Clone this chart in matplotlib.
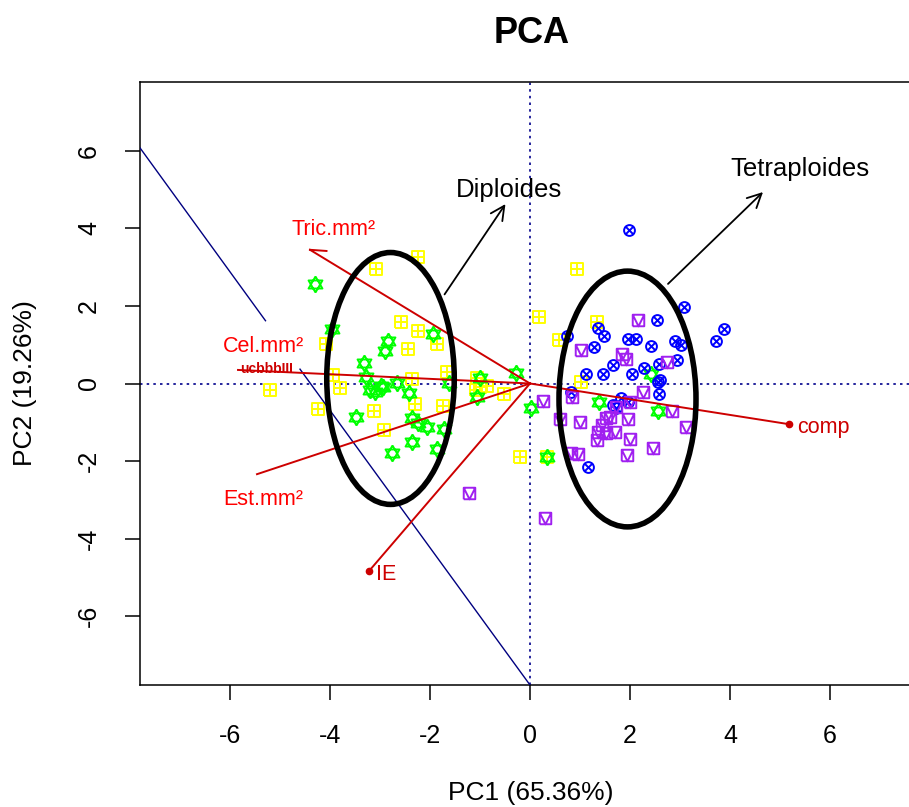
import numpy as np
import matplotlib
matplotlib.use("Agg")
import matplotlib.pyplot as plt
from matplotlib.path import Path
from matplotlib.patches import Ellipse

plt.rcParams['font.family'] = ['Liberation Sans', 'DejaVu Sans']

# Gruppen (Punkte der PCA)
dip_yellow_x = [-2.25, -3.08, -2.59, -2.24, -2.45, -1.87, -3.94, -1.67, -3.80, -2.37,
                -4.23, -3.13, -2.31, -1.74, -2.92, -4.08, -1.07, -1.09, -1.01, -0.87,
                -0.52, 0.17, -0.20, -5.20, 0.34, 0.94, 1.33, 0.57, 1.01]
dip_yellow_y = [3.26, 2.95, 1.59, 1.36, 0.90, 1.02, 0.23, 0.29, -0.12, 0.11,
                -0.67, -0.71, -0.54, -0.58, -1.20, 1.03, 0.13, -0.17, -0.08, -0.06,
                -0.28, 1.72, -1.90, -0.18, -1.90, 2.95, 1.58, 1.12, 0.03]

dip_green_x = [-4.31, -3.97, -2.85, -2.91, -1.95, -3.33, -3.29, -3.20, -3.11, -2.99,
               -2.94, -2.66, -2.42, -1.63, -3.48, -2.37, -2.24, -2.07, -1.72, -2.37,
               -2.77, -1.87, -1.01, -1.07, -0.28, 0.01, 0.34, 1.37, 2.42, 2.55]
dip_green_y = [2.58, 1.41, 1.10, 0.83, 1.29, 0.54, 0.18, -0.17, -0.21, -0.06,
               -0.08, 0.01, -0.24, 0.02, -0.86, -0.90, -1.01, -1.11, -1.17, -1.50,
               -1.80, -1.70, 0.13, -0.34, 0.26, -0.64, -1.89, -0.49, 0.25, -0.70]

tet_blue_x = [1.97, 3.07, 2.53, 3.87, 3.72, 1.35, 1.48, 0.74, 1.27, 1.95,
              2.12, 2.41, 2.90, 3.02, 1.65, 1.11, 1.45, 2.03, 2.27, 2.57,
              2.93, 2.59, 2.55, 0.81, 2.57, 1.82, 1.95, 1.65, 1.72, 1.15]
tet_blue_y = [3.96, 1.98, 1.64, 1.40, 1.10, 1.42, 1.23, 1.23, 0.95, 1.15,
              1.15, 0.97, 1.10, 0.99, 0.48, 0.25, 0.24, 0.25, 0.39, 0.50,
              0.61, 0.09, 0.04, -0.23, -0.28, -0.37, -0.49, -0.55, -0.64, -2.16]

tet_purple_x = [2.16, 1.02, 1.83, 1.91, 2.73, 0.84, 0.26, 2.25, 1.71, 1.99,
                2.84, 0.59, 0.99, 1.59, 1.52, 1.95, 1.43, 1.35, 1.52, 1.69,
                1.33, 3.11, 1.99, 2.45, 0.82, 0.95, 1.94, -1.23, 0.30]
tet_purple_y = [1.65, 0.86, 0.75, 0.62, 0.56, -0.34, -0.45, -0.23, -0.60, -0.47,
                -0.70, -0.92, -0.99, -0.86, -0.90, -0.92, -1.07, -1.24, -1.29, -1.24,
                -1.46, -1.11, -1.44, -1.66, -1.79, -1.83, -1.85, -2.82, -3.46]

# Variablen (Ladungen)
var_names = ['Tric.mm²', 'Cel.mm²', 'Est.mm²', 'IE', 'comp']
var_x = [-4.40, -5.84, -5.46, -3.22, 5.18]
var_y = [3.45, 0.35, -2.34, -4.84, -1.05]
var_label_x = [-3.93, -5.34, -5.33, -3.07, 5.34]
var_label_y = [3.83, 0.82, -3.14, -5.07, -1.29]

# Ellipsen: Mitte, Breite, Hoehe
ell_names = ['Diploides', 'Tetraploides']
ell_cx = [-2.79, 1.95]
ell_cy = [0.13, -0.40]
ell_w = [2.55, 2.74]
ell_h = [6.50, 6.60]
ann_tail = [(-1.74, 2.24), (2.72, 2.52)]
ann_tip = [(-0.46, 4.69), (4.70, 4.99)]
ann_text = [(-0.43, 4.82), (5.40, 5.35)]

# blaue Linie
blue_x = [-7.8, -5.29, np.nan, -4.60, 0.0]
blue_y = [6.08, 1.62, np.nan, 0.37, -7.78]


def seg_path(segments):
    verts, codes = [], []
    for seg in segments:
        for i, p in enumerate(seg):
            verts.append(p)
            codes.append(Path.MOVETO if i == 0 else Path.LINETO)
    return Path(verts, codes)


sq = [(-1, -1), (1, -1), (1, 1), (-1, 1), (-1, -1)]
m_square_plus = seg_path([sq, [(0, -1), (0, 1)], [(-1, 0), (1, 0)]])
m_square_v = seg_path([sq, [(-1, 1), (0, -1), (1, 1)]])
m_star = seg_path([[(0, 1.15), (-1, -0.58), (1, -0.58), (0, 1.15)],
                   [(0, -1.15), (-1, 0.58), (1, 0.58), (0, -1.15)]])
m_circle_x = Path.make_compound_path(
    Path.unit_circle(),
    seg_path([[(-0.75, -0.75), (0.75, 0.75)], [(-0.75, 0.75), (0.75, -0.75)]]))

fig = plt.figure(figsize=(9.09, 8.07), dpi=100)
ax = fig.add_axes([140 / 909, 122 / 807, 780 / 909, 603 / 807])

ax.axhline(0, color='#00008B', lw=1.2, ls=(0, (1.5, 2.5)), zorder=1)
ax.axvline(0, color='#00008B', lw=1.2, ls=(0, (1.5, 2.5)), zorder=1)

ax.plot(dip_yellow_x, dip_yellow_y, ls='none', marker=m_square_plus, ms=8.3,
        mfc='none', mec='#FFFF00', mew=1.4, zorder=2)
ax.plot(dip_green_x, dip_green_y, ls='none', marker=m_star, ms=11.5,
        mfc='none', mec='#00FF00', mew=1.4, zorder=2)
ax.plot(tet_blue_x, tet_blue_y, ls='none', marker=m_circle_x, ms=7.8,
        mfc='none', mec='#0000FF', mew=1.4, zorder=2)
ax.plot(tet_purple_x, tet_purple_y, ls='none', marker=m_square_v, ms=8.3,
        mfc='none', mec='#A020F0', mew=1.4, zorder=2)

ax.plot(blue_x, blue_y, color='#000080', lw=1.0, zorder=3)

for i, name in enumerate(var_names):
    ax.plot([0, var_x[i]], [0, var_y[i]], color='#CD0000', lw=1.4, zorder=3)
    if name in ('IE', 'comp'):
        ax.plot(var_x[i], var_y[i], 'o', color='#CD0000', ms=4.5, zorder=3)
        ax.text(var_label_x[i], var_label_y[i], name, color='#CD0000',
                fontsize=15.5, ha='left', va='baseline')
    else:
        ax.text(var_label_x[i], var_label_y[i], name, color='#FF0000',
                fontsize=15.5, ha='center', va='baseline')

# kleiner Pfeilkopf bei Tric.mm²
ax.plot([var_x[0], var_x[0] + 0.33], [var_y[0], var_y[0] - 0.03], color='#CD0000', lw=1.4, zorder=3)
# ueberlagerte Beschriftungen bei Cel.mm²
ax.text(var_x[1] + 0.05, var_y[1] - 0.08, 'ucbbbIII', color='#CD0000', fontsize=10,
        fontweight='bold', ha='left', va='baseline', zorder=3)

for i, name in enumerate(ell_names):
    ax.add_patch(Ellipse((ell_cx[i], ell_cy[i]), ell_w[i], ell_h[i], fill=False,
                         ec='black', lw=4.0, zorder=4))
    ax.annotate('', xy=ann_tip[i], xytext=ann_tail[i],
                arrowprops=dict(arrowstyle='->', color='black', lw=1.3,
                                mutation_scale=25), zorder=4)
    ax.text(ann_text[i][0], ann_text[i][1], name, fontsize=18.5,
            ha='center', va='baseline', zorder=4)

ax.set_xlim(-7.8, 7.8)
ax.set_ylim(-7.78, 7.78)
ax.set_xticks(np.arange(-6, 7, 2))
ax.set_yticks(np.arange(-6, 7, 2))
ax.set_xticklabels([str(v) for v in range(-6, 7, 2)])
ax.set_yticklabels([str(v) for v in range(-6, 7, 2)])
ax.tick_params(axis='both', direction='out', length=11, width=1.1, labelsize=18, pad=17)
ax.tick_params(axis='y', labelrotation=90)
for lab in ax.get_yticklabels():
    lab.set_va('center')
for s in ax.spines.values():
    s.set_linewidth(1.1)

fig.text(532 / 909, 1 - 43 / 807, 'PCA', ha='center', va='baseline',
         fontsize=26, fontweight='bold')
fig.text(531 / 909, 1 - 800 / 807, 'PC1 (65.36%)', ha='center', va='baseline', fontsize=19)
fig.text(25 / 909, 1 - 383 / 807, 'PC2 (19.26%)', ha='center', va='center',
         rotation=90, fontsize=19)

fig.savefig('out.png', dpi=100)
